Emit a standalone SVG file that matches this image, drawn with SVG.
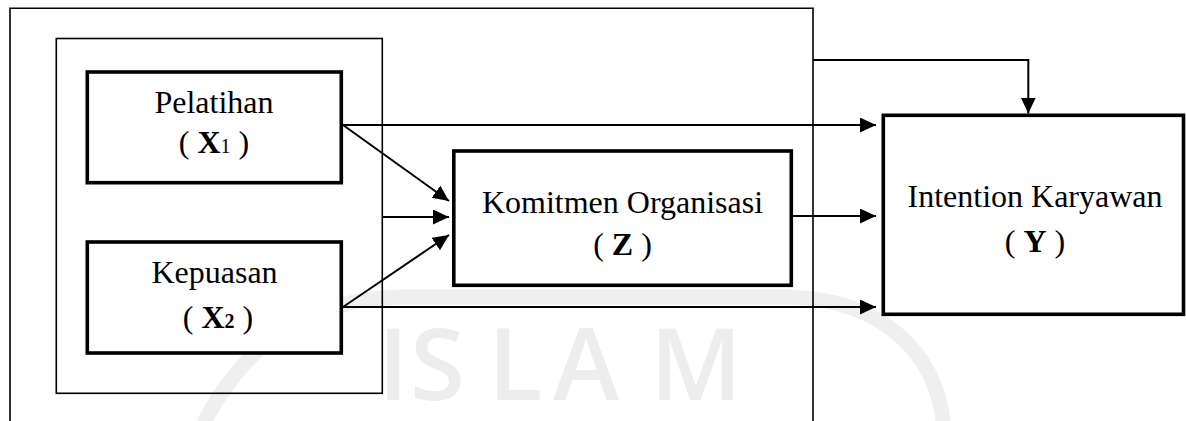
<svg xmlns="http://www.w3.org/2000/svg" width="1186" height="421" viewBox="0 0 1186 421">
  <style>
    .frame { fill: none; stroke: #000; stroke-width: 1.6; }
    .box { fill: #fff; stroke: #000; stroke-width: 3.6; }
    .lbl { font-family: "Liberation Serif", "Times New Roman", serif; font-size: 32px; fill: #000; text-anchor: middle; }
    .b { font-weight: bold; }
    .sub { font-size: 20px; }
    .conn { fill: none; stroke: #000; stroke-width: 2; }
    .wm-ring { fill: none; stroke: #efefef; stroke-width: 15; }
    .wm-text { font-family: "Open Sans", "Noto Sans", sans-serif; font-size: 100px; font-weight: 600; fill: #ededed; }
  </style>
  <defs>
    <marker id="arrow" markerUnits="userSpaceOnUse" markerWidth="17" markerHeight="16" refX="16" refY="7.5" orient="auto">
      <path d="M0,0 L16,7.5 L0,15 Z" fill="#000"/>
    </marker>
  </defs>

  <rect width="1186" height="421" fill="#fff"/>

  <!-- faint background emblem -->
  <g id="watermark">
    <path class="wm-ring" d="M200,430 C240,350 300,300 400,297 L790,297 C880,300 938,350 944,430"/>
    <text class="wm-text" x="378 410 488 553 650" y="400">ISLAM</text>
  </g>

  <!-- grouping frames -->
  <g id="frames">
    <path class="frame" d="M10,421 V8.3 H813 V421"/>
    <rect class="frame" x="56.3" y="38.5" width="326" height="354.8"/>
  </g>

  <!-- connectors -->
  <g id="connectors">
    <line class="conn" x1="342" y1="125" x2="876" y2="125" marker-end="url(#arrow)"/>
    <line class="conn" x1="343" y1="125" x2="449" y2="201" marker-end="url(#arrow)"/>
    <line class="conn" x1="382" y1="217" x2="449" y2="217" marker-end="url(#arrow)"/>
    <line class="conn" x1="343" y1="307" x2="449" y2="235" marker-end="url(#arrow)"/>
    <line class="conn" x1="342" y1="307" x2="876" y2="307" marker-end="url(#arrow)"/>
    <line class="conn" x1="792" y1="216" x2="876" y2="216" marker-end="url(#arrow)"/>
    <path class="conn" d="M813,60 H1028.3 V113.5" marker-end="url(#arrow)"/>
  </g>

  <g id="node-pelatihan">
    <rect class="box" x="87.3" y="72" width="254" height="110.7"/>
    <text class="lbl" x="214" y="113">Pelatihan</text>
    <text class="lbl" x="214" y="153">( <tspan class="b">X</tspan><tspan class="sub">1</tspan> )</text>
  </g>

  <g id="node-kepuasan">
    <rect class="box" x="87.3" y="242" width="254" height="111"/>
    <text class="lbl" x="214.5" y="283">Kepuasan</text>
    <text class="lbl" x="218" y="328">( <tspan class="b">X</tspan><tspan class="b sub">2</tspan> )</text>
  </g>

  <g id="node-komitmen">
    <rect class="box" x="453.8" y="151" width="337.5" height="134.3"/>
    <text class="lbl" x="622.5" y="213">Komitmen Organisasi</text>
    <text class="lbl" x="622.5" y="255">( <tspan class="b">Z</tspan> )</text>
  </g>

  <g id="node-intention">
    <rect class="box" x="883.3" y="115.3" width="300.2" height="199"/>
    <text class="lbl" x="1035" y="207">Intention Karyawan</text>
    <text class="lbl" x="1035" y="252">( <tspan class="b">Y</tspan> )</text>
  </g>
</svg>
